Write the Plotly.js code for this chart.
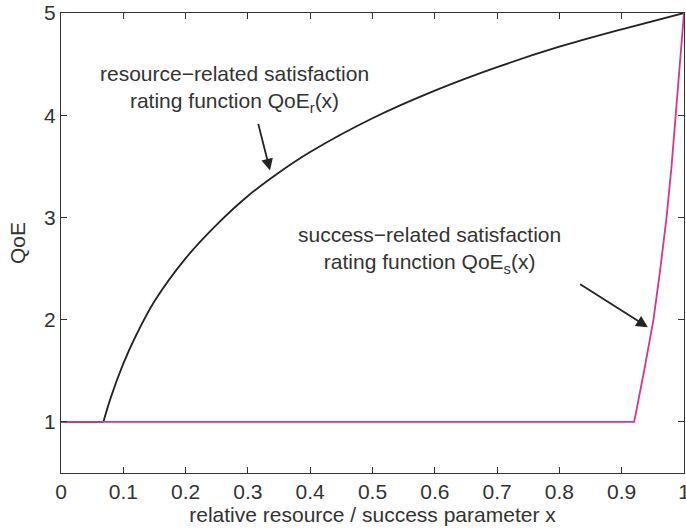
<!DOCTYPE html>
<html>
<head>
<meta charset="utf-8">
<script src="https://cdn.plot.ly/plotly-3.0.1.min.js"></script>
<style>html,body{margin:0;padding:0;background:#fff;}#chart{width:686px;height:529px;}</style>
</head>
<body>
<div id="chart"></div>
<script>
// QoE_r(x): resource-related satisfaction rating function
var resX = [0, 0.068, 0.08, 0.1, 0.12, 0.15, 0.2, 0.25, 0.3, 0.35, 0.4, 0.5, 0.6, 0.7, 0.8, 0.9, 1.0];
var resY = [1, 1, 1.24, 1.57, 1.84, 2.18, 2.60, 2.93, 3.21, 3.44, 3.64, 3.97, 4.24, 4.47, 4.67, 4.84, 5.0];
// QoE_s(x): success-related satisfaction rating function
var sucX = [0, 0.92, 0.936, 0.951, 0.962, 0.972, 0.98, 0.987, 0.994, 1.0];
var sucY = [1, 1, 1.5, 2.0, 2.5, 3.0, 3.5, 4.0, 4.5, 5.0];
var xTicks = [0, 0.1, 0.2, 0.3, 0.4, 0.5, 0.6, 0.7, 0.8, 0.9, 1];
var xTickText = ['0', '0.1', '0.2', '0.3', '0.4', '0.5', '0.6', '0.7', '0.8', '0.9', '1'];
var yTicks = [1, 2, 3, 4, 5];

var FONT = 'Liberation Sans, Arial, sans-serif';
var TXT = '#333';
var FS = 21;
var BLACK = '#222';
var PINK = '#d4378a';

var traces = [
  // flat part of QoE_r (linear), then the rising part (smoothed)
  {x: resX.slice(0, 2), y: resY.slice(0, 2), mode: 'lines', line: {color: BLACK, width: 1.8}, hoverinfo: 'none'},
  {x: resX.slice(1), y: resY.slice(1), mode: 'lines', line: {color: BLACK, width: 1.8, shape: 'spline', smoothing: 0.8}, hoverinfo: 'none'},
  {x: sucX, y: sucY, mode: 'lines', line: {color: PINK, width: 1.8}, hoverinfo: 'none'}
];

var layout = {
  width: 686, height: 529,
  margin: {l: 61, r: 2, t: 13, b: 56},
  paper_bgcolor: '#fff', plot_bgcolor: '#fff',
  showlegend: false,
  font: {family: FONT, color: TXT, size: FS},
  xaxis: {
    range: [0, 1], tickvals: xTicks, ticktext: xTickText,
    ticks: 'inside', ticklen: 6, tickcolor: '#333', mirror: 'ticks',
    showline: true, linecolor: '#333', linewidth: 1.2, showgrid: false, zeroline: false,
    ticklabeloverflow: 'allow',
    tickfont: {family: FONT, size: FS, color: TXT},
    title: {text: 'relative resource / success parameter x', font: {family: FONT, size: FS, color: TXT}, standoff: 2}
  },
  yaxis: {
    range: [0.5, 5], tickvals: yTicks,
    ticks: 'inside', ticklen: 6, tickcolor: '#333', mirror: 'ticks',
    showline: true, linecolor: '#333', linewidth: 1.2, showgrid: false, zeroline: false,
    ticklabeloverflow: 'allow',
    tickfont: {family: FONT, size: FS, color: TXT},
    title: {text: 'QoE', font: {family: FONT, size: FS, color: TXT}, standoff: 12}
  },
  annotations: [
    {x: 0.279, y: 4.26, xref: 'x', yref: 'y', showarrow: false,
     text: 'resource\u2212related satisfaction<br>rating function QoE<sub>r</sub>(x)',
     font: {family: FONT, size: FS, color: TXT}, align: 'center'},
    {x: 0.591, y: 2.68, xref: 'x', yref: 'y', showarrow: false,
     text: 'success\u2212related satisfaction<br>rating function QoE<sub>s</sub>(x)',
     font: {family: FONT, size: FS, color: TXT}, align: 'center'},
    {x: 0.3355, y: 3.46, xref: 'x', yref: 'y', ax: 0.316, ay: 3.93, axref: 'x', ayref: 'y',
     text: '', showarrow: true, arrowhead: 2, arrowsize: 1.3, arrowwidth: 1.8, arrowcolor: BLACK},
    {x: 0.942, y: 1.926, xref: 'x', yref: 'y', ax: 0.831, ay: 2.356, axref: 'x', ayref: 'y',
     text: '', showarrow: true, arrowhead: 2, arrowsize: 1.3, arrowwidth: 1.8, arrowcolor: BLACK}
  ]
};

Plotly.newPlot('chart', traces, layout, {displayModeBar: false, staticPlot: true});
</script>
</body>
</html>
